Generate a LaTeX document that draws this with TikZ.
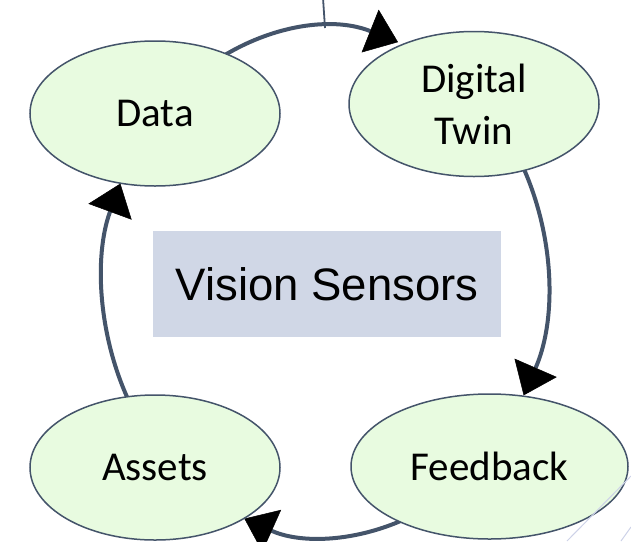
\documentclass[tikz,border=0pt]{standalone}
\usepackage{fontspec}
\setmainfont{Carlito}
\newfontfamily\arialfont{Liberation Sans}
\usetikzlibrary{shapes.geometric,arrows.meta,calc}
\definecolor{ringc}{RGB}{68,84,106}
\definecolor{ellfill}{RGB}{232,251,224}
\definecolor{rectfill}{RGB}{208,215,230}
\definecolor{faint}{RGB}{205,210,232}
\begin{document}
\begin{tikzpicture}[x=1pt,y=1pt,
  ell/.style={ellipse, draw=ringc, line width=1.5pt, fill=ellfill, inner sep=0pt,
    minimum width=250pt, minimum height=145pt, font=\fontsize{41}{52}\selectfont, align=center},
  conn/.style={draw=ringc, line width=4pt,
    -{Triangle[length=30pt,width=46pt,color=black,line width=0.5pt]}},
  lead/.style={draw=ringc, line width=1.8pt},
  faintline/.style={draw=faint, line width=1pt},
  centre/.style={rectangle, fill=rectfill, inner sep=0pt, minimum width=348pt,
    minimum height=106pt, font=\arialfont\fontsize{45.5}{54}\selectfont}]
\useasboundingbox (0,0) rectangle (631,-541);
\fill[white] (0,0) rectangle (631,-541);
\coordinate (ring) at (325,-282);
\coordinate (ringtop) at ($(ring)+(90:222pt and 254pt)$);
\coordinate (topout) at (323,2);
\coordinate (a1s) at ($(ring)+(130:222pt and 254pt)$);
\coordinate (a2s) at ($(ring)+(35:222pt and 254pt)$);
\coordinate (a3s) at ($(ring)+(-60:222pt and 254pt)$);
\coordinate (a4s) at ($(ring)+(-150:222pt and 254pt)$);
\draw[lead] (topout) -- (ringtop);
\draw[conn] (a1s) arc[start angle=130, end angle=70.8, x radius=222pt, y radius=254pt];
\draw[conn] (a2s) arc[start angle=35, end angle=-26.5, x radius=222pt, y radius=254pt];
\draw[conn] (a3s) arc[start angle=-60, end angle=-111.3, x radius=222pt, y radius=254pt];
\draw[conn] (a4s) arc[start angle=-150, end angle=-202.8, x radius=222pt, y radius=254pt];
\node[ell] (data) at (155,-113.5) {Data};
\node[ell] (twin) at (474,-104) {Digital\\Twin};
\node[ell] (assets) at (155,-467.5) {Assets};
\node[ell, minimum width=277pt] (feedback) at (489.5,-466.5) {Feedback};
\node[centre] (vision) at (327,-284) {Vision Sensors};
\coordinate (f1a) at (631,-476);
\coordinate (f1b) at (567,-541);
\coordinate (f2a) at (631,-527);
\coordinate (f2b) at (621,-541);
\draw[faintline] (f1a) -- (f1b);
\draw[faintline] (f2a) -- (f2b);
\end{tikzpicture}
\end{document}
